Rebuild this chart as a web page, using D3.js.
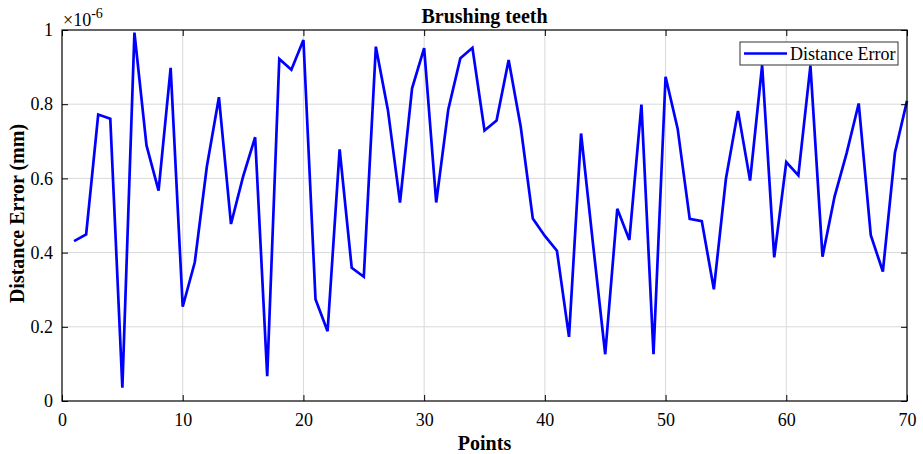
<!DOCTYPE html>
<html>
<head>
<meta charset="utf-8">
<script src="https://cdn.jsdelivr.net/npm/d3@7/dist/d3.min.js"></script>
<style>
  html, body { margin: 0; padding: 0; background: #fff; }
  svg { display: block; font-family: "Liberation Serif", "Times New Roman", serif; }
</style>
</head>
<body>
<svg id="chart" width="923" height="454"></svg>
<script>
// Distance error per sample point (units of 1e-6 mm)
const points = d3.range(1, 71);
const distanceError = [
  0.431, 0.449, 0.772, 0.761, 0.036, 0.993, 0.689, 0.567, 0.898, 0.254,
  0.374, 0.632, 0.819, 0.477, 0.605, 0.711, 0.067, 0.922, 0.893, 0.973,
  0.274, 0.188, 0.678, 0.359, 0.335, 0.955, 0.784, 0.535, 0.843, 0.951,
  0.535, 0.786, 0.924, 0.952, 0.729, 0.756, 0.919, 0.739, 0.492, 0.445,
  0.405, 0.173, 0.721, 0.420, 0.126, 0.518, 0.434, 0.799, 0.126, 0.874,
  0.734, 0.491, 0.485, 0.301, 0.599, 0.782, 0.594, 0.905, 0.387, 0.644,
  0.608, 0.904, 0.389, 0.551, 0.668, 0.802, 0.447, 0.349, 0.669, 0.809
];
const xTicks = [0, 10, 20, 30, 40, 50, 60, 70];
const yTicks = [0, 0.2, 0.4, 0.6, 0.8, 1];
const yTickLabels = ["0", "0.2", "0.4", "0.6", "0.8", "1"];
const chartTitle = "Brushing teeth";
const xLabel = "Points";
const yLabel = "Distance Error (mm)";
const seriesName = "Distance Error";

const svg = d3.select("#chart");
const m = { left: 62, right: 16, top: 30, bottom: 53 };
const W = 923, H = 454;
const iw = W - m.left - m.right, ih = H - m.top - m.bottom;

const x = d3.scaleLinear().domain([0, 70]).range([m.left, m.left + iw]);
const y = d3.scaleLinear().domain([0, 1]).range([m.top + ih, m.top]);

// grid
const grid = svg.append("g").attr("stroke", "#d9d9d9").attr("stroke-width", 1);
xTicks.slice(1, -1).forEach(t => grid.append("line")
  .attr("x1", x(t)).attr("x2", x(t)).attr("y1", y(0)).attr("y2", y(1)));
yTicks.slice(1, -1).forEach(t => grid.append("line")
  .attr("x1", x(0)).attr("x2", x(70)).attr("y1", y(t)).attr("y2", y(t)));

// data line
const line = d3.line().x((d, i) => x(points[i])).y(d => y(d));
svg.append("path")
  .datum(distanceError)
  .attr("fill", "none")
  .attr("stroke", "#0000ff")
  .attr("stroke-width", 2.7)
  .attr("stroke-linejoin", "miter")
  .attr("d", line);

// axes with inward ticks on all sides
const tickLen = 6;
const axB = d3.axisBottom(x).tickValues(xTicks).tickSizeInner(-tickLen).tickSizeOuter(0).tickPadding(12);
const axL = d3.axisLeft(y).tickValues(yTicks).tickFormat((d, i) => yTickLabels[i]).tickSizeInner(-tickLen).tickSizeOuter(0).tickPadding(9);
const axT = d3.axisTop(x).tickValues(xTicks).tickSizeInner(-tickLen).tickSizeOuter(0).tickFormat("");
const axR = d3.axisRight(y).tickValues(yTicks).tickSizeInner(-tickLen).tickSizeOuter(0).tickFormat("");

function styleAxis(g) {
  g.select(".domain").remove();
  g.selectAll("line").attr("stroke", "#000").attr("stroke-width", 1);
  g.selectAll("text").attr("fill", "#000").style("font-size", "18px")
    .style("font-family", "'Liberation Serif', 'Times New Roman', serif");
}
svg.append("g").attr("transform", `translate(0,${y(0)})`).call(axB).call(styleAxis);
svg.append("g").attr("transform", `translate(${x(0)},0)`).call(axL).call(styleAxis);
svg.append("g").attr("transform", `translate(0,${y(1)})`).call(axT).call(styleAxis);
svg.append("g").attr("transform", `translate(${x(70)},0)`).call(axR).call(styleAxis);

// frame
svg.append("rect")
  .attr("x", x(0)).attr("y", y(1))
  .attr("width", x(70) - x(0)).attr("height", y(0) - y(1))
  .attr("fill", "none").attr("stroke", "#000").attr("stroke-width", 1.2);

// exponent label
const expo = svg.append("text").attr("x", x(0) + 1).attr("y", 26)
  .style("font-size", "18px").attr("fill", "#000");
expo.append("tspan").text("\u00d710");
expo.append("tspan").attr("dy", -8).style("font-size", "14px").text("-6");

// title and axis labels
svg.append("text").attr("x", (x(0) + x(70)) / 2).attr("y", 22.5)
  .attr("text-anchor", "middle").style("font-size", "20px").style("font-weight", "bold")
  .text(chartTitle);
svg.append("text").attr("x", (x(0) + x(70)) / 2).attr("y", 450)
  .attr("text-anchor", "middle").style("font-size", "20px").style("font-weight", "bold")
  .text(xLabel);
svg.append("text")
  .attr("transform", `translate(24,${(y(0) + y(1)) / 2 - 2}) rotate(-90)`)
  .attr("text-anchor", "middle").style("font-size", "20px").style("font-weight", "bold")
  .text(yLabel);

// legend
const lg = svg.append("g").attr("transform", "translate(740,42)");
lg.append("rect").attr("width", 158).attr("height", 23)
  .attr("fill", "#fff").attr("stroke", "#333").attr("stroke-width", 1);
lg.append("line").attr("x1", 4).attr("x2", 47).attr("y1", 11.5).attr("y2", 11.5)
  .attr("stroke", "#0000ff").attr("stroke-width", 2.7);
lg.append("text").attr("x", 50).attr("y", 18).style("font-size", "18px").attr("fill", "#000")
  .text(seriesName);
</script>
</body>
</html>
